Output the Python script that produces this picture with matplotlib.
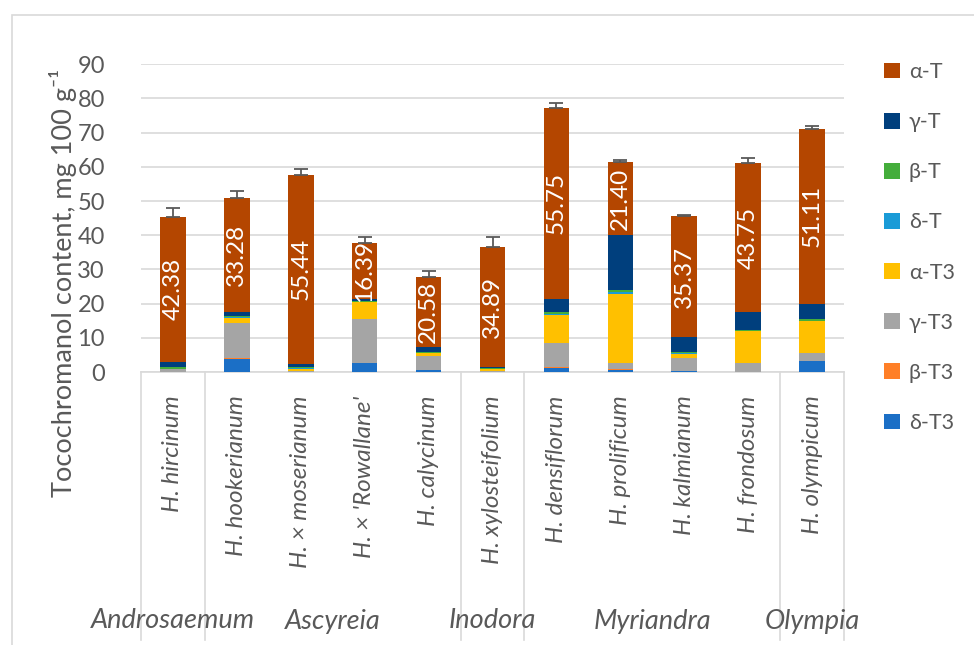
import numpy as np
import matplotlib
matplotlib.use('Agg')
import matplotlib.pyplot as plt
from matplotlib.patches import Rectangle
from matplotlib.lines import Line2D
import matplotlib.transforms as mtransforms

plt.rcParams['font.family'] = ['Lato', 'DejaVu Sans']

# ---------------- data ----------------
species = ['H. hircinum', 'H. hookerianum', 'H. × moserianum', "H. × 'Rowallane'",
           'H. calycinum', 'H. xylosteifolium', 'H. densiflorum', 'H. prolificum',
           'H. kalmianum', 'H. frondosum', 'H. olympicum']
group_names = ['Androsaemum', 'Ascyreia', 'Inodora', 'Myriandra', 'Olympia']
group_sizes = [1, 4, 1, 4, 1]

# stacked from the bottom up
delta_T3 = [0.1, 3.9, 0.1, 2.5, 0.5, 0.1, 1.3, 0.7, 0.2, 0.1, 3.1]
beta_T3 = [0.0, 0.05, 0.0, 0.05, 0.05, 0.0, 0.05, 0.05, 0.0, 0.0, 0.05]
gamma_T3 = [0.7, 10.4, 0.2, 12.9, 4.1, 0.2, 7.1, 1.8, 3.9, 2.5, 2.3]
alpha_T3 = [0.1, 1.5, 0.7, 5.0, 0.8, 0.5, 8.1, 20.3, 1.3, 9.3, 9.4]
delta_T = [0.05, 0.2, 0.1, 0.1, 0.2, 0.1, 0.3, 0.5, 0.1, 0.1, 0.1]
beta_T = [0.5, 0.3, 0.5, 0.3, 0.3, 0.3, 0.6, 0.5, 0.3, 0.4, 0.6]
gamma_T = [1.6, 1.2, 0.7, 0.4, 1.3, 0.4, 4.0, 16.1, 4.3, 5.0, 4.4]
alpha_T = [42.38, 33.28, 55.44, 16.39, 20.58, 34.89, 55.75, 21.40, 35.37, 43.75, 51.11]
total_err = [2.5, 2.0, 1.5, 1.7, 1.7, 3.0, 1.5, 0.7, 0.4, 1.3, 1.0]

series = [('δ-T3', delta_T3, '#1B6FC6'),
          ('β-T3', beta_T3, '#FF7F27'),
          ('γ-T3', gamma_T3, '#A5A5A5'),
          ('α-T3', alpha_T3, '#FFC000'),
          ('δ-T', delta_T, '#1A9BD7'),
          ('β-T', beta_T, '#44AD3B'),
          ('γ-T', gamma_T, '#003F7D'),
          ('α-T', alpha_T, '#B44600')]

txt = '#595959'
grid_c = '#D9D9D9'

fig = plt.figure(figsize=(9.74, 6.45), dpi=100)
# chart border (Excel style)
fig.add_artist(Rectangle((12 / 974, -0.05), 1.1, 1 - 15 / 645 + 0.05, transform=fig.transFigure,
                         fill=False, edgecolor=grid_c, linewidth=1.2))

ax = fig.add_axes([141 / 974, 1 - 372 / 645, 703 / 974, (372 - 64.2) / 645])

x = np.arange(len(species))
bottom = np.zeros(len(species))
for name, vals, col in series:
    vals = np.array(vals)
    ax.bar(x, vals, width=0.4, bottom=bottom, color=col, label=name, zorder=3)
    if name == 'α-T':
        for xi, b, v in zip(x, bottom, vals):
            ax.text(xi, b + v / 2, '%.2f' % v, rotation=90, ha='center', va='center',
                    color='white', fontsize=17.5, zorder=5)
    bottom = bottom + vals

# plus error bars on totals
ax.errorbar(x, bottom, yerr=[np.zeros(len(x)), total_err], fmt='none', ecolor='#595959',
            elinewidth=1.3, capsize=5, capthick=1.3, zorder=4)

ax.set_xlim(-0.5, len(species) - 0.5)
ax.set_ylim(0, 90)
ax.set_yticks(np.arange(0, 91, 10))
ax.yaxis.grid(True, color=grid_c, linewidth=1.2, zorder=0)
ax.set_axisbelow(True)
for s in ['top', 'right', 'left']:
    ax.spines[s].set_visible(False)
ax.spines['bottom'].set_color(grid_c)
ax.spines['bottom'].set_linewidth(1.2)
ax.tick_params(axis='y', length=0, labelsize=17, labelcolor=txt, pad=26)
ax.tick_params(axis='x', length=0, pad=17)
ax.set_xticks(x)
ax.set_xticklabels(species, rotation=90, fontstyle='italic', fontsize=17.5, color=txt,
                   va='top', ha='center')

# multi-level category axis
trans = mtransforms.blended_transform_factory(ax.transData, ax.transAxes)
y_low = (372 - 640) / (372 - 64.2)
edges = np.concatenate([[0], np.cumsum(group_sizes)])
for e in edges:
    ax.add_line(Line2D([e - 0.5, e - 0.5], [0, y_low], transform=trans, color=grid_c,
                       linewidth=1.2, clip_on=False))
y_grp = (372 - 621) / (372 - 64.2)
for name, a, b in zip(group_names, edges[:-1], edges[1:]):
    ax.text((a + b - 1) / 2, y_grp, name, transform=trans, ha='center', va='center',
            fontstyle='italic', fontsize=19.5, color=txt)

fig.text(63 / 974, 1 - 283 / 645, 'Tocochromanol content, mg 100 g⁻¹', rotation=90,
         ha='center', va='center', fontsize=19.5, color=txt)

handles, labels = ax.get_legend_handles_labels()
leg = fig.legend(handles[::-1], labels[::-1], loc='upper left',
                 bbox_to_anchor=(884 / 974, 1 - 62 / 645), frameon=False, fontsize=15.5,
                 labelspacing=1.4, handlelength=0.75, handleheight=0.75,
                 handletextpad=0.4, borderpad=0, borderaxespad=0)
for t in leg.get_texts():
    t.set_color(txt)

fig.savefig('out.png', dpi=100)
